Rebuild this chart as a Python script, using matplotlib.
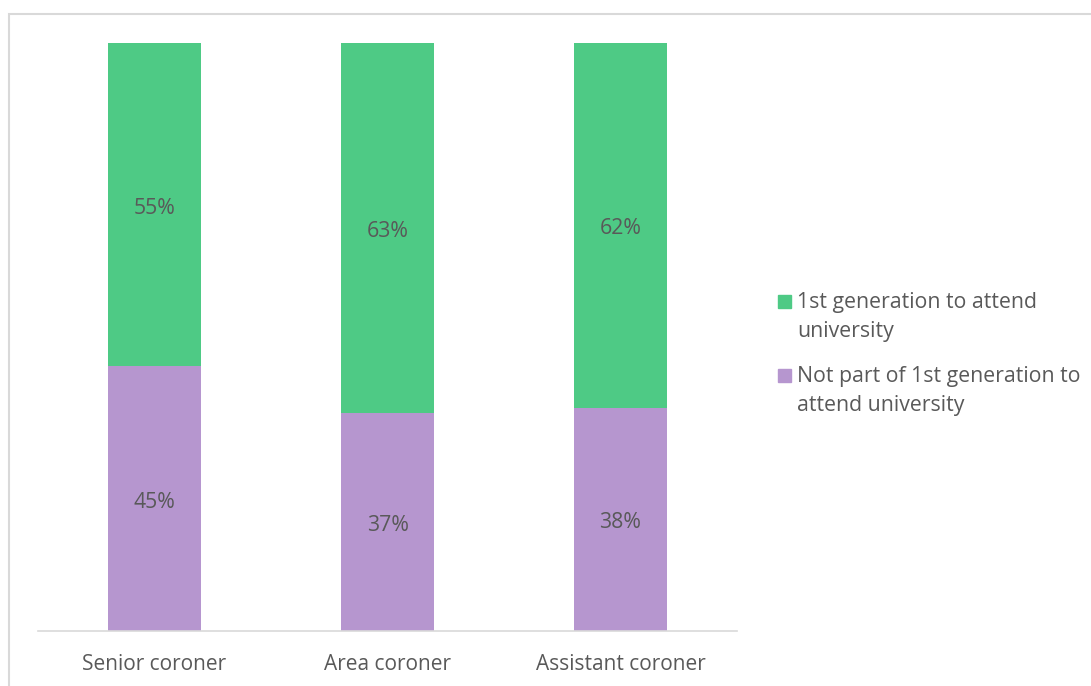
import matplotlib.pyplot as plt
from matplotlib.patches import Rectangle

plt.rcParams['font.family'] = ['Open Sans', 'DejaVu Sans']

categories = ['Senior coroner', 'Area coroner', 'Assistant coroner']
not_first_gen = [45, 37, 38]
first_gen = [55, 63, 62]
series_labels = ['1st generation to attend\nuniversity',
                 'Not part of 1st generation to\nattend university']
green = '#4ECA85'
purple = '#B696CF'
text_col = '#595959'

fig = plt.figure(figsize=(10.91, 6.86), dpi=100)
W, H = 1091, 686

# light outer frame, running off the right and bottom edges
fig.patches.append(Rectangle((8.5 / W, -0.1), 1.2, (H - 13.5) / H + 0.1,
                             transform=fig.transFigure, fill=False,
                             edgecolor='#D9D9D9', linewidth=1.5))

ax = fig.add_axes([38 / W, (H - 631) / H, 699 / W, 588 / H])
x = range(len(categories))
ax.bar(x, not_first_gen, width=0.4, color=purple)
ax.bar(x, first_gen, width=0.4, bottom=not_first_gen, color=green)

for i in x:
    ax.annotate(f'{not_first_gen[i]}%', (i, not_first_gen[i] / 2),
                xytext=(0, -2.5), textcoords='offset points', ha='center',
                va='center', fontsize=15.3, color=text_col)
    ax.annotate(f'{first_gen[i]}%', (i, not_first_gen[i] + first_gen[i] / 2),
                xytext=(0, -2.5), textcoords='offset points', ha='center',
                va='center', fontsize=15.3, color=text_col)

ax.set_xlim(-0.5, 2.5)
ax.set_ylim(0, 100)
ax.set_xticks(list(x))
ax.set_xticklabels(categories, fontsize=15, color=text_col)
ax.tick_params(axis='x', length=0, pad=16.5)
ax.set_yticks([])
for s in ['top', 'right', 'left']:
    ax.spines[s].set_visible(False)
ax.spines['bottom'].set_color('#D9D9D9')
ax.spines['bottom'].set_linewidth(1.2)

# legend drawn by hand so the swatch sits on the first line
legend_rows = [(301, series_labels[0], green), (375, series_labels[1], purple)]
for y, label, col in legend_rows:
    fig.patches.append(Rectangle((778 / W, (H - y - 7) / H), 13 / W, 13 / H,
                                 transform=fig.transFigure, color=col))
    fig.text(797 / W, (H - y + 9) / H, label, fontsize=15.3, color=text_col,
             va='top', ha='left', linespacing=1.52)

fig.savefig('out.png', dpi=100)
